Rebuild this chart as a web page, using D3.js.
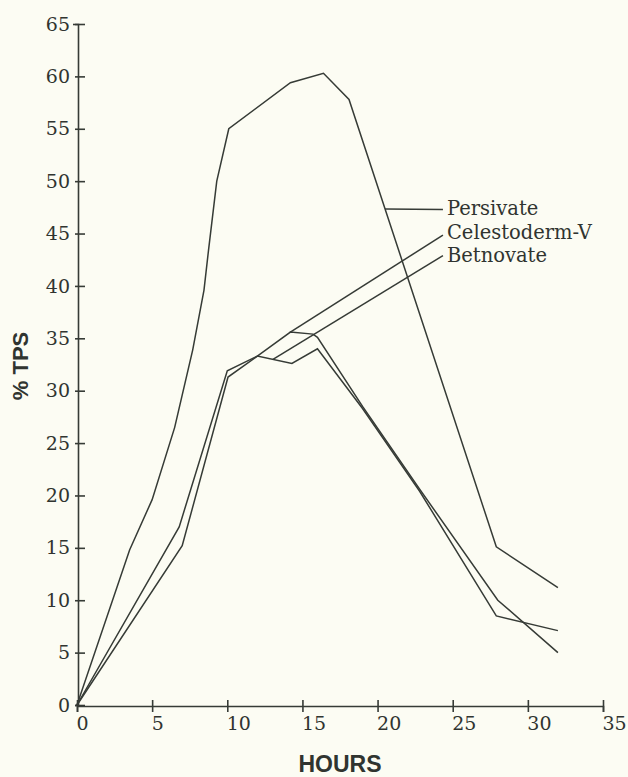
<!DOCTYPE html>
<html lang="en">
<head>
    <meta charset="UTF-8">
    <script src="https://cdn.jsdelivr.net/npm/d3@7"></script>
    <title>% TPS over hours</title>
    <style>
        body {
            margin: 0;
            background: #fcfcf3;
        }
        svg {
            display: block;
        }
        .tick text {
            font-family: 'DejaVu Serif', serif;
            font-size: 19px;
            fill: #303430;
        }
        .axis-title {
            font-family: 'Liberation Sans', Arial, sans-serif;
            font-weight: bold;
            fill: #303430;
        }
        .legend-label {
            font-family: 'DejaVu Serif', serif;
            font-size: 19.5px;
            fill: #303430;
        }
    </style>
</head>
<body>
<div class="chart"></div>

<script>
    const width = 628;
    const height = 777;
    const ink = "#363b36";

    // series (hours, % TPS)
    const persivateHours = [0, 3.5, 5, 6.5, 7.7, 8.45, 8.75, 9.3, 10.1, 14.2, 16.4, 18.1, 27.9, 32];
    const persivateTPS   = [0, 14.8, 19.6, 26.5, 33.9, 39.6, 43.4, 50, 55, 59.4, 60.3, 57.8, 15.1, 11.2];

    const celestodermHours = [0, 6.8, 10, 12, 14.2, 15.7, 16, 19, 22.8, 28, 32];
    const celestodermTPS   = [0, 17, 31.9, 33.3, 35.6, 35.4, 35.1, 28.5, 20.6, 10, 5];

    const betnovateHours = [0, 7, 10.05, 12, 14.3, 16, 19, 22.8, 27.9, 32];
    const betnovateTPS   = [0, 15.2, 31.3, 33.3, 32.6, 34, 28.3, 20.4, 8.5, 7.1];

    const seriesNames = ["Persivate", "Celestoderm-V", "Betnovate"];
    // where each leader leaves its curve (hours), where it ends and where the label baseline sits (% TPS)
    const leaderHours = [20.5, 14.17, 13.04];
    const leaderEndTPS = [47.3, 44.85, 42.9];
    const labelBaseTPS = [46.8, 44.5, 42.3];
    const labelHour = 24.35;

    const xTicks = [0, 5, 10, 15, 20, 25, 30, 35];
    const yTicks = [0, 5, 10, 15, 20, 25, 30, 35, 40, 45, 50, 55, 60, 65];

    const series = [
        persivateHours.map((h, i) => ({hour: h, tps: persivateTPS[i]})),
        celestodermHours.map((h, i) => ({hour: h, tps: celestodermTPS[i]})),
        betnovateHours.map((h, i) => ({hour: h, tps: betnovateTPS[i]}))
    ];

    const x = d3.scaleLinear().domain([0, 35]).range([77, 603]);
    const y = d3.scaleLinear().domain([0, 65]).range([705, 24]);

    const svg = d3.select(".chart").append("svg")
        .attr("width", width)
        .attr("height", height);

    // y axis, ticks crossing the spine
    const yAxis = svg.append("g")
        .attr("transform", `translate(${x(0) + 1},0)`)
        .call(d3.axisLeft(y).tickValues(yTicks).tickSizeOuter(0).tickSize(3).tickPadding(5));
    yAxis.selectAll(".tick line").attr("x1", 7);
    yAxis.selectAll(".tick line").filter(d => d === 65).attr("x2", -5);

    const xAxis = svg.append("g")
        .attr("transform", `translate(0,${y(0) + 1})`)
        .call(d3.axisBottom(x).tickValues(xTicks).tickSizeOuter(0).tickSize(6));
    xAxis.selectAll(".tick line").attr("y1", -6);
    xAxis.selectAll(".tick text")
        .attr("text-anchor", "start")
        .attr("x", -1)
        .attr("y", 11);

    svg.selectAll(".domain, .tick line")
        .attr("stroke", ink)
        .attr("stroke-width", 1.6);

    // curves
    const line = d3.line()
        .x(d => x(d.hour))
        .y(d => y(d.tps));

    svg.append("g")
        .selectAll("path")
        .data(series)
        .enter()
        .append("path")
        .attr("d", line)
        .attr("fill", "none")
        .attr("stroke", ink)
        .attr("stroke-width", 1.5)
        .attr("stroke-linejoin", "miter");

    // value of a series at a given hour
    function valueAt(s, hour) {
        const i = d3.bisector(d => d.hour).right(s, hour);
        const a = s[i - 1], b = s[i];
        return a.tps + (b.tps - a.tps) * (hour - a.hour) / (b.hour - a.hour);
    }

    const legend = svg.append("g");
    seriesNames.forEach((name, i) => {
        legend.append("line")
            .attr("x1", x(leaderHours[i]))
            .attr("y1", y(valueAt(series[i], leaderHours[i])))
            .attr("x2", x(labelHour))
            .attr("y2", y(leaderEndTPS[i]))
            .attr("stroke", ink)
            .attr("stroke-width", 1.5);
        legend.append("text")
            .attr("class", "legend-label")
            .attr("x", x(labelHour) + 4)
            .attr("y", y(labelBaseTPS[i]))
            .text(name);
    });

    svg.append("text")
        .attr("class", "axis-title")
        .attr("x", 340)
        .attr("y", 772)
        .attr("text-anchor", "middle")
        .style("font-size", "23px")
        .text("HOURS");

    svg.append("text")
        .attr("class", "axis-title")
        .attr("transform", "translate(28,366) rotate(-90)")
        .attr("text-anchor", "middle")
        .style("font-size", "22px")
        .text("% TPS");
</script>
</body>
</html>
